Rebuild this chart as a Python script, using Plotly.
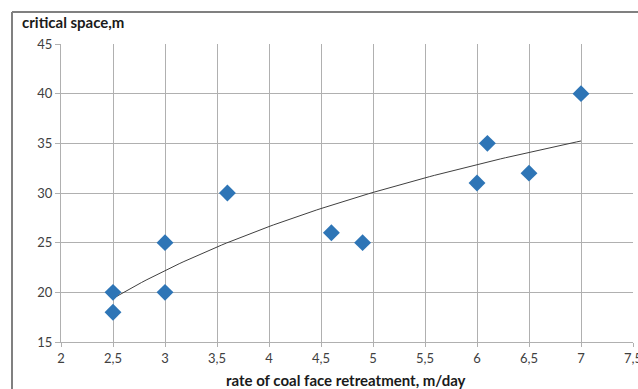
import numpy as np
import plotly.graph_objects as go

rate = [2.5, 2.5, 3.0, 3.0, 3.6, 4.6, 4.9, 6.0, 6.1, 6.5, 7.0]
space = [20, 18, 25, 20, 30, 26, 25, 31, 35, 32, 40]
x_ticks = [2, 2.5, 3, 3.5, 4, 4.5, 5, 5.5, 6, 6.5, 7, 7.5]
y_ticks = [15, 20, 25, 30, 35, 40, 45]

# logarithmic trendline (least squares on ln x, as in a spreadsheet trendline)
a, b = np.polyfit(np.log(rate), space, 1)
tx = np.linspace(min(rate), max(rate), 100)
ty = a * np.log(tx) + b

W, H = 638, 389
L, R, T, B = 61, 5, 44, 47
pw, ph = W - L - R, H - T - B

FONT = "Lato, Liberation Sans, sans-serif"

fig = go.Figure()
fig.add_trace(go.Scatter(x=tx, y=ty, mode="lines",
                         line=dict(color="#404040", width=1), hoverinfo="skip",
                         showlegend=False))
fig.add_trace(go.Scatter(x=rate, y=space, mode="markers",
                         marker=dict(symbol="diamond", size=13, color="#2E75B6"),
                         showlegend=False))

fx = lambda px: (px - L) / pw
fy = lambda py: 1 - (py - T) / ph

fig.update_layout(
    width=W, height=H,
    margin=dict(l=L, r=R, t=T, b=B, autoexpand=False),
    paper_bgcolor="white", plot_bgcolor="white",
    separators=", ",
    font=dict(family=FONT, size=13, color="#404040"),
    xaxis=dict(range=[2, 7.5], tickvals=x_ticks, showgrid=True,
               gridcolor="#B0B0B0", gridwidth=1, zeroline=False,
               showline=True, linecolor="#B0B0B0", ticks="outside",
               ticklen=4, tickcolor="#B0B0B0", automargin=False,
               ticklabeloverflow="allow"),
    yaxis=dict(range=[15, 45], tickvals=y_ticks, showgrid=True,
               gridcolor="#B0B0B0", gridwidth=1, zeroline=False,
               showline=True, linecolor="#B0B0B0", ticks="outside",
               ticklen=5, tickcolor="#B0B0B0", automargin=False,
               ticklabeloverflow="allow"),
    shapes=[
        dict(type="line", xref="paper", yref="paper",
             x0=fx(12), x1=fx(12), y0=fy(H + 5), y1=fy(12),
             line=dict(color="#808080", width=2)),
        dict(type="line", xref="paper", yref="paper",
             x0=fx(12), x1=fx(W + 5), y0=fy(12), y1=fy(12),
             line=dict(color="#808080", width=2)),
    ],
    annotations=[
        dict(text="<b>critical space,m</b>", xref="paper", yref="paper",
             x=fx(20), y=fy(22), xanchor="left", yanchor="middle",
             showarrow=False, font=dict(size=15, color="#1a1a1a")),
        dict(text="<b>rate of coal face retreatment, m/day</b>",
             xref="paper", yref="paper",
             x=fx(346), y=fy(380), xanchor="center", yanchor="middle",
             showarrow=False, font=dict(size=15, color="#1a1a1a")),
    ],
)

fig.write_html("out.html",
               config={"displayModeBar": False},
               post_script="document.body.style.margin='0px';"
                           "document.body.style.overflow='hidden';")
